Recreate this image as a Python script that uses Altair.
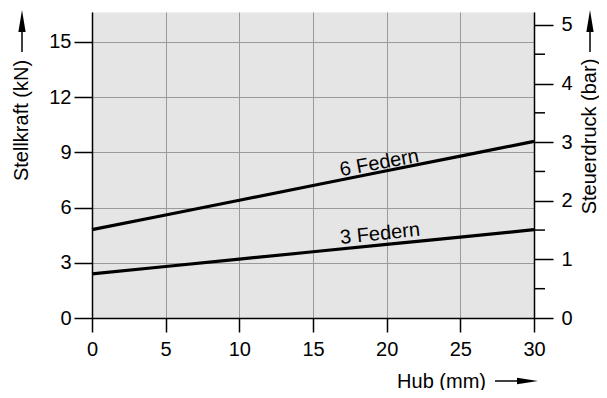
import altair as alt
import pandas as pd

# ---- data ----
hub_mm = [0, 5, 10, 15, 20, 25, 30]
kraft_6_federn = [4.8, 5.6, 6.4, 7.2, 8.0, 8.8, 9.6]
kraft_3_federn = [2.4, 2.8, 3.2, 3.6, 4.0, 4.4, 4.8]
series_names = ["6 Federn", "3 Federn"]

x_ticks = [0, 5, 10, 15, 20, 25, 30]
y_left_ticks = [0, 3, 6, 9, 12, 15]
y_right_ticks = [0, 1, 2, 3, 4, 5]
y_right_minor = [0.5, 1.5, 2.5, 3.5, 4.5]

label_text = ["6 Federn", "3 Federn"]
label_x = [19.5, 19.55]
label_y = [8.42, 4.57]
label_angle = [349.5, 354]

FONT = "Liberation Sans"
FS = 20
W, H = 442, 306
Y_LEFT_MAX = 16.63
Y_RIGHT_MAX = 5.22

rows = []
for name, vals in zip(series_names, [kraft_6_federn, kraft_3_federn]):
    for x, y in zip(hub_mm, vals):
        rows.append({"serie": name, "hub": x, "kraft": y})
df = pd.DataFrame(rows)
lab = pd.DataFrame({"t": label_text, "hub": label_x, "kraft": label_y, "ang": label_angle})
minor = pd.DataFrame({"bar": y_right_minor})
one = pd.DataFrame({"a": [0]})

xscale = alt.Scale(domain=[0, 30], nice=False, zero=False)
yl_scale = alt.Scale(domain=[0, Y_LEFT_MAX], nice=False)
yr_scale = alt.Scale(domain=[0, Y_RIGHT_MAX], nice=False)

x_axis = alt.Axis(
    values=x_ticks, grid=True, gridColor="#9a9a9a", gridWidth=1,
    domainColor="black", domainWidth=1.5, tickColor="black", tickWidth=1.5,
    tickSize=14, labelPadding=7, labelFont=FONT, labelFontSize=FS, labelColor="black",
    labelFlush=False, labelOverlap=False,
    title="Hub (mm)", titleFont=FONT, titleFontSize=FS, titleFontWeight="normal",
    titleColor="black", titleX=349, titleY=63, titleAlign="center",
    titleBaseline="middle", titleAngle=0,
)
yl_axis = alt.Axis(
    orient="left", values=y_left_ticks, grid=True, gridColor="#9a9a9a", gridWidth=1,
    domainColor="black", domainWidth=1.5, tickColor="black", tickWidth=1.5,
    tickSize=18, labelPadding=3, labelFont=FONT, labelFontSize=FS, labelColor="black",
    labelFlush=False, labelOverlap=False,
    title="Stellkraft (kN)", titleFont=FONT, titleFontSize=FS, titleFontWeight="normal",
    titleColor="black", titleX=-71, titleY=108, titleAngle=270, titleAlign="center",
    titleBaseline="middle",
)
yr_axis = alt.Axis(
    orient="right", values=y_right_ticks, grid=False,
    domainColor="black", domainWidth=1.5, tickColor="black", tickWidth=1.5,
    tickSize=19, labelPadding=8, labelFont=FONT, labelFontSize=FS, labelColor="black",
    labelFlush=False, labelOverlap=False,
    title="Steuerdruck (bar)", titleFont=FONT, titleFontSize=FS, titleFontWeight="normal",
    titleColor="black", titleX=55, titleY=124, titleAngle=270, titleAlign="center",
    titleBaseline="middle",
)

lines = alt.Chart(df).mark_line(color="black", strokeWidth=3.2).encode(
    x=alt.X("hub:Q", scale=xscale, axis=x_axis),
    y=alt.Y("kraft:Q", scale=yl_scale, axis=yl_axis),
    detail="serie:N",
)
labels = alt.Chart(lab).mark_text(
    font=FONT, fontSize=FS, color="black", align="center", baseline="middle"
).encode(
    x=alt.X("hub:Q", scale=xscale),
    y=alt.Y("kraft:Q", scale=yl_scale),
    text="t:N",
    angle=alt.Angle("ang:Q", scale=None),
)
left = alt.layer(lines, labels)

right = alt.Chart(minor).mark_rule(color="black", strokeWidth=1.5).encode(
    y=alt.Y("bar:Q", scale=yr_scale, axis=yr_axis),
    x=alt.value(W),
    x2=alt.value(W + 11),
)

# arrows next to the axis titles
def vline(xp):
    return alt.Chart(one).mark_rule(color="black", strokeWidth=1.5).encode(
        x=alt.value(xp), y=alt.value(9), y2=alt.value(40))

def vhead(xp):
    return alt.Chart(one).mark_point(
        shape="M0,-1L0.33,1L-0.33,1Z", filled=True, color="black", opacity=1,
        size=484, strokeWidth=0).encode(x=alt.value(xp), y=alt.value(9))

hline = alt.Chart(one).mark_rule(color="black", strokeWidth=1.5).encode(
    x=alt.value(403), x2=alt.value(433), y=alt.value(369))
hhead = alt.Chart(one).mark_point(
    shape="M1,0L-1,-0.3L-1,0.3Z", filled=True, color="black", opacity=1,
    size=441, strokeWidth=0).encode(x=alt.value(435.5), y=alt.value(369))

chart = alt.layer(
    left, right, vline(-70), vhead(-70), vline(498), vhead(498), hline, hhead
).resolve_scale(y="independent").properties(
    width=W, height=H,
    autosize=alt.AutoSizeParams(type="none"),
    padding={"left": 84, "top": 4, "right": 65, "bottom": 72},
    background="white",
).configure_view(fill="#e5e5e5", stroke="transparent")

chart.save("out.html", embed_options={"renderer": "svg", "actions": False})
